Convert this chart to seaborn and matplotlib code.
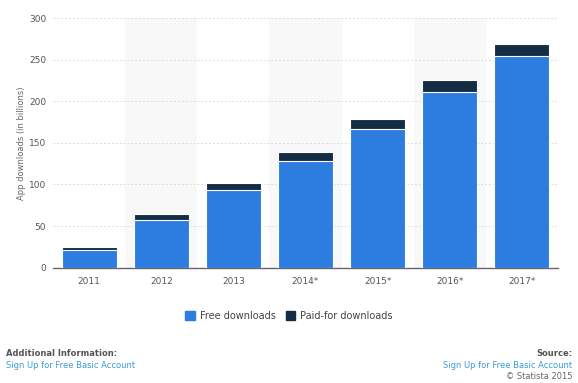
import pandas as pd
import matplotlib.pyplot as plt
import seaborn as sns

# =========================================
# DATA
# =========================================

years = ["2011", "2012", "2013", "2014*", "2015*", "2016*", "2017*"]
free_downloads = [21.7, 57.3, 92.9, 127.9, 167.0, 211.3, 253.9]
paid_downloads = [2.9, 6.7, 9.2, 11.0, 12.0, 14.1, 14.8]

df = pd.DataFrame({
    "year": years,
    "free": free_downloads,
    "paid": paid_downloads,
})
df["total"] = df["free"] + df["paid"]

free_color = "#2d7de0"
paid_color = "#152c45"

# =========================================
# FIGURE
# =========================================

sns.set_style("white")
plt.rcParams["font.family"] = ["DejaVu Sans"]

fig = plt.figure(figsize=(5.78, 3.83), dpi=100)
ax = fig.add_axes([0.092, 0.301, 0.873, 0.652])

# alternating background bands
for i in range(len(years)):
    if i % 2 == 1:
        ax.axvspan(i - 0.5, i + 0.5, color="#f8f8f8", zorder=0, lw=0)

# grid lines
for v in range(50, 301, 50):
    ax.axhline(v, color="#dddddd", lw=0.7, ls=(0, (2, 2)), zorder=0.5)

# stacked bars: total (paid on top), then free
sns.barplot(data=df, x="year", y="total", color=paid_color, width=0.76,
            saturation=1, edgecolor="white", linewidth=0.8, ax=ax, zorder=2)
sns.barplot(data=df, x="year", y="free", color=free_color, width=0.76,
            saturation=1, edgecolor="white", linewidth=0.8, ax=ax, zorder=3)

ax.set_xlim(-0.5, len(years) - 0.5)
ax.set_ylim(0, 300)
ax.set_yticks(range(0, 301, 50))
ax.set_xlabel("")
ax.set_ylabel("App downloads (in billions)", fontsize=6, color="#666666", labelpad=2)

ax.tick_params(axis="both", length=0, labelsize=6.5, colors="#555555")
ax.tick_params(axis="x", pad=7)
ax.tick_params(axis="y", pad=5)

for side in ["top", "right", "left"]:
    ax.spines[side].set_visible(False)
ax.spines["bottom"].set_color("#666666")
ax.spines["bottom"].set_linewidth(1.0)

# =========================================
# LEGEND
# =========================================

handles = [
    plt.Rectangle((0, 0), 1, 1, color=free_color),
    plt.Rectangle((0, 0), 1, 1, color=paid_color),
]
fig.legend(handles, ["Free downloads", "Paid-for downloads"],
           loc="center", bbox_to_anchor=(0.5, 0.175), ncol=2, frameon=False,
           fontsize=7, handlelength=1.0, handleheight=1.0, handletextpad=0.5,
           columnspacing=1.0, labelcolor="#444444")

# =========================================
# FOOTER
# =========================================

fig.text(0.010, 0.078, "Additional Information:", fontsize=6, color="#555555",
         fontweight="bold", va="center")
fig.text(0.010, 0.046, "Sign Up for Free Basic Account", fontsize=6,
         color="#3a9ad9", va="center")
fig.text(0.990, 0.078, "Source:", fontsize=6, color="#555555",
         fontweight="bold", va="center", ha="right")
fig.text(0.990, 0.046, "Sign Up for Free Basic Account", fontsize=6,
         color="#3a9ad9", va="center", ha="right")
fig.text(0.990, 0.016, "© Statista 2015", fontsize=6, color="#666666",
         va="center", ha="right")

plt.savefig("out.png", dpi=100)
